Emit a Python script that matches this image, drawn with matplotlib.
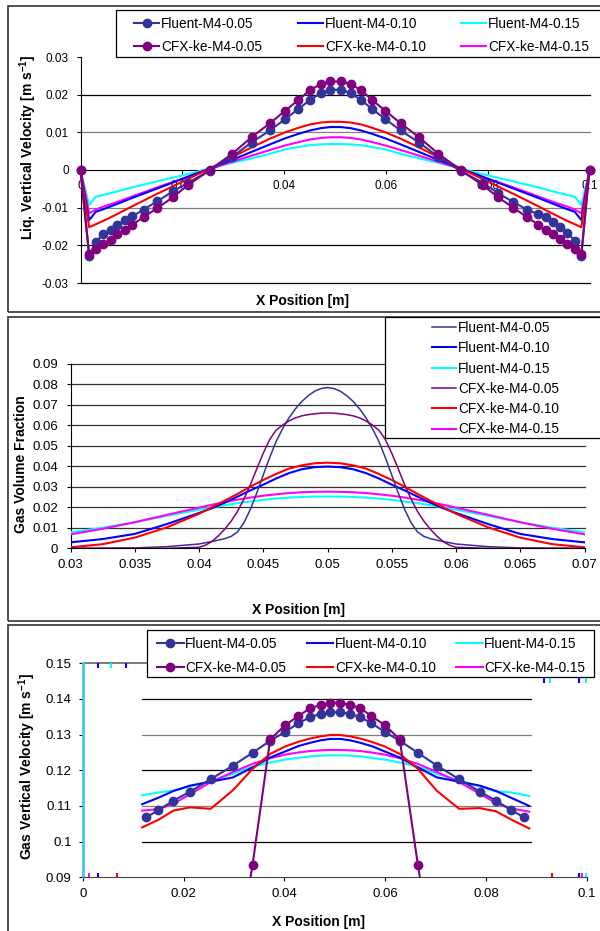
import matplotlib
matplotlib.use("Agg")
import matplotlib.pyplot as plt
from matplotlib.patches import Rectangle
from matplotlib.lines import Line2D

plt.rcParams['font.family'] = ['Liberation Sans', 'DejaVu Sans']
plt.rcParams['mathtext.fontset'] = 'custom'
plt.rcParams['mathtext.rm'] = 'Liberation Sans:bold'
plt.rcParams['mathtext.it'] = 'Liberation Sans:bold'
plt.rcParams['mathtext.bf'] = 'Liberation Sans:bold'

# --- series names ---
SERIES = ['Fluent-M4-0.05', 'Fluent-M4-0.10', 'Fluent-M4-0.15',
          'CFX-ke-M4-0.05', 'CFX-ke-M4-0.10', 'CFX-ke-M4-0.15']

# --- panel 1: liquid vertical velocity ---
x_liq = [0.0, 0.0017, 0.0030, 0.0045, 0.0059, 0.0072, 0.0087, 0.0102, 0.0124, 0.0151,
         0.0181, 0.0211, 0.0254, 0.0298, 0.0336, 0.0372, 0.0402, 0.0428, 0.0451, 0.0472,
         0.0491, 0.0511, 0.0531, 0.0551, 0.0573, 0.0599, 0.0629, 0.0665, 0.0703, 0.0747,
         0.0790, 0.0820, 0.0850, 0.0877, 0.0899, 0.0914, 0.0929, 0.0942, 0.0956, 0.0971,
         0.0984, 0.1]
liq_fluent_005 = [0.0, -0.0228, -0.0190, -0.0171, -0.0158, -0.0146, -0.0133, -0.0123, -0.0105, -0.0083,
                  -0.0057, -0.0034, -0.0002, 0.0035, 0.0073, 0.0105, 0.0135, 0.0162, 0.0186, 0.0204,
                  0.0213, 0.0213, 0.0204, 0.0186, 0.0162, 0.0135, 0.0105, 0.0073, 0.0035, -0.0003,
                  -0.0034, -0.0061, -0.0085, -0.0105, -0.0117, -0.0124, -0.0137, -0.0151, -0.0166, -0.0188,
                  -0.0227, 0.0]
liq_cfx_005 = [0.0, -0.0224, -0.0209, -0.0197, -0.0185, -0.0171, -0.0158, -0.0145, -0.0125, -0.0101,
               -0.0073, -0.0040, 0.0000, 0.0043, 0.0087, 0.0124, 0.0157, 0.0186, 0.0212, 0.0228,
               0.0235, 0.0235, 0.0228, 0.0212, 0.0186, 0.0157, 0.0124, 0.0087, 0.0043, 0.0000,
               -0.0040, -0.0072, -0.0100, -0.0125, -0.0145, -0.0159, -0.0171, -0.0183, -0.0197, -0.0209,
               -0.0222, 0.0]

x_liq_line = [0.0, 0.0017, 0.0030, 0.0045, 0.0072, 0.0102, 0.0151, 0.0211, 0.0254, 0.0298,
              0.0336, 0.0372, 0.0402, 0.0428, 0.0451, 0.0472, 0.0491, 0.0511, 0.0531, 0.0551,
              0.0573, 0.0599, 0.0629, 0.0665, 0.0703, 0.0747, 0.0790, 0.0850, 0.0899, 0.0929,
              0.0956, 0.0971, 0.0984, 0.1]
liq_fluent_010 = [0.0, -0.0133, -0.0111, -0.0104, -0.0090, -0.0074, -0.0049, -0.0018, 0.0004, 0.0027,
                  0.0048, 0.0068, 0.0084, 0.0096, 0.0105, 0.0111, 0.0114, 0.0114, 0.0111, 0.0105,
                  0.0096, 0.0084, 0.0068, 0.0048, 0.0027, 0.0004, -0.0018, -0.0049, -0.0074, -0.0090,
                  -0.0104, -0.0111, -0.0133, 0.0]
liq_fluent_015 = [0.0, -0.0093, -0.0071, -0.0066, -0.0057, -0.0046, -0.0030, -0.0011, 0.0004, 0.0019,
                  0.0031, 0.0043, 0.0055, 0.0061, 0.0066, 0.0068, 0.0069, 0.0069, 0.0068, 0.0066,
                  0.0061, 0.0055, 0.0043, 0.0031, 0.0019, 0.0004, -0.0011, -0.0030, -0.0046, -0.0057,
                  -0.0066, -0.0071, -0.0093, 0.0]
liq_cfx_010 = [0.0, -0.0152, -0.0144, -0.0135, -0.0117, -0.0096, -0.0063, -0.0024, 0.0004, 0.0034,
               0.0060, 0.0083, 0.0100, 0.0112, 0.0121, 0.0126, 0.0128, 0.0128, 0.0126, 0.0121,
               0.0112, 0.0100, 0.0083, 0.0060, 0.0034, 0.0004, -0.0024, -0.0063, -0.0096, -0.0117,
               -0.0135, -0.0144, -0.0152, 0.0]
liq_cfx_015 = [0.0, -0.0115, -0.0105, -0.0097, -0.0085, -0.0070, -0.0046, -0.0018, 0.0003, 0.0022,
               0.0038, 0.0053, 0.0065, 0.0074, 0.0081, 0.0085, 0.0087, 0.0087, 0.0085, 0.0081,
               0.0074, 0.0065, 0.0053, 0.0038, 0.0022, 0.0003, -0.0018, -0.0046, -0.0070, -0.0085,
               -0.0097, -0.0105, -0.0115, 0.0]
liq_xticks = [0.0, 0.02, 0.04, 0.06, 0.08, 0.1]
liq_xticklabels = ['0', '0.02', '0.04', '0.06', '0.08', '0.1']
liq_yticks = [-0.03, -0.02, -0.01, 0.0, 0.01, 0.02, 0.03]
liq_yticklabels = ['-0.03', '-0.02', '-0.01', '0', '0.01', '0.02', '0.03']

# --- panel 2: gas volume fraction ---
# wide profiles (1 mm spacing near the centre)
x_frac = [0.030, 0.0325, 0.035, 0.0375, 0.040, 0.041, 0.042, 0.043, 0.044, 0.045,
          0.046, 0.047, 0.048, 0.049, 0.050, 0.051, 0.052, 0.053, 0.054, 0.055,
          0.056, 0.057, 0.058, 0.059, 0.060, 0.0625, 0.065, 0.0675, 0.070]
frac_fluent_010 = [0.0029, 0.0045, 0.0070, 0.0118, 0.0172, 0.0195, 0.0222, 0.0252, 0.0282, 0.0310,
                   0.0340, 0.0366, 0.0385, 0.0395, 0.0398, 0.0395, 0.0385, 0.0366, 0.0340, 0.0310,
                   0.0282, 0.0252, 0.0222, 0.0195, 0.0172, 0.0118, 0.0070, 0.0045, 0.0029]
frac_fluent_015 = [0.0078, 0.0100, 0.0127, 0.0158, 0.0188, 0.0199, 0.0210, 0.0220, 0.0228, 0.0236,
                   0.0242, 0.0247, 0.0250, 0.0252, 0.0252, 0.0252, 0.0250, 0.0247, 0.0242, 0.0236,
                   0.0228, 0.0220, 0.0210, 0.0199, 0.0188, 0.0158, 0.0127, 0.0100, 0.0078]
frac_cfx_010 = [0.0005, 0.0020, 0.0052, 0.0102, 0.0168, 0.0200, 0.0232, 0.0265, 0.0300, 0.0333,
                0.0362, 0.0388, 0.0404, 0.0414, 0.0417, 0.0414, 0.0404, 0.0388, 0.0362, 0.0333,
                0.0300, 0.0265, 0.0232, 0.0200, 0.0168, 0.0102, 0.0052, 0.0020, 0.0005]
frac_cfx_015 = [0.0068, 0.0095, 0.0127, 0.0163, 0.0198, 0.0212, 0.0225, 0.0237, 0.0247, 0.0256,
                0.0263, 0.0269, 0.0273, 0.0275, 0.0276, 0.0275, 0.0273, 0.0269, 0.0263, 0.0256,
                0.0247, 0.0237, 0.0225, 0.0212, 0.0198, 0.0163, 0.0127, 0.0095, 0.0068]
# narrow profiles (0.5 mm spacing between 0.04 and 0.06)
x_frac_fine = [0.030, 0.0325, 0.035, 0.0375,
               0.0400, 0.0405, 0.0410, 0.0415, 0.0420, 0.0425, 0.0430, 0.0435, 0.0440, 0.0445,
               0.0450, 0.0455, 0.0460, 0.0465, 0.0470, 0.0475, 0.0480, 0.0485, 0.0490, 0.0495,
               0.0500, 0.0505, 0.0510, 0.0515, 0.0520, 0.0525, 0.0530, 0.0535, 0.0540, 0.0545,
               0.0550, 0.0555, 0.0560, 0.0565, 0.0570, 0.0575, 0.0580, 0.0585, 0.0590, 0.0595,
               0.0600, 0.0625, 0.065, 0.0675, 0.070]
frac_fluent_005 = [0.0, 0.0, 0.0002, 0.0008,
                   0.0021, 0.0027, 0.0033, 0.0040, 0.0047, 0.0058, 0.0080, 0.0125, 0.0190, 0.0270,
                   0.0357, 0.0442, 0.0520, 0.0582, 0.0635, 0.0679, 0.0715, 0.0743, 0.0765, 0.0778,
                   0.0783, 0.0778, 0.0765, 0.0743, 0.0715, 0.0679, 0.0635, 0.0582, 0.0520, 0.0442,
                   0.0357, 0.0270, 0.0190, 0.0125, 0.0080, 0.0058, 0.0047, 0.0040, 0.0033, 0.0027,
                   0.0021, 0.0008, 0.0002, 0.0, 0.0]
frac_cfx_005 = [0.0, 0.0, 0.0, 0.0,
                0.0005, 0.0015, 0.0033, 0.0060, 0.0093, 0.0132, 0.0180, 0.0240, 0.0310, 0.0388,
                0.0463, 0.0530, 0.0575, 0.0600, 0.0620, 0.0635, 0.0645, 0.0651, 0.0655, 0.0658,
                0.0659, 0.0658, 0.0655, 0.0651, 0.0645, 0.0635, 0.0620, 0.0600, 0.0575, 0.0530,
                0.0463, 0.0388, 0.0310, 0.0240, 0.0180, 0.0132, 0.0093, 0.0060, 0.0033, 0.0015,
                0.0005, 0.0, 0.0, 0.0, 0.0]
frac_xticks = [0.03, 0.035, 0.04, 0.045, 0.05, 0.055, 0.06, 0.065, 0.07]
frac_xticklabels = ['0.03', '0.035', '0.04', '0.045', '0.05', '0.055', '0.06', '0.065', '0.07']
frac_yticks = [0.0, 0.01, 0.02, 0.03, 0.04, 0.05, 0.06, 0.07, 0.08, 0.09]
frac_yticklabels = ['0', '0.01', '0.02', '0.03', '0.04', '0.05', '0.06', '0.07', '0.08', '0.09']

# --- panel 3: gas vertical velocity ---
x_gvel_f05 = [0.0126, 0.0150, 0.0180, 0.0213, 0.0254, 0.0298, 0.0337, 0.0372, 0.0402, 0.0428,
              0.0451, 0.0472, 0.0491, 0.0511, 0.0531, 0.0551, 0.0573, 0.0599, 0.0629, 0.0665,
              0.0703, 0.0747, 0.0788, 0.0820, 0.0850, 0.0876]
gvel_fluent_005 = [0.1068, 0.1088, 0.1115, 0.1140, 0.1175, 0.1213, 0.1249, 0.1283, 0.1308, 0.1332,
                   0.1349, 0.1358, 0.1363, 0.1363, 0.1358, 0.1349, 0.1332, 0.1308, 0.1283, 0.1249,
                   0.1213, 0.1175, 0.1140, 0.1115, 0.1088, 0.1068]
x_gvel_c05 = [0.0298, 0.0337, 0.0372, 0.0402, 0.0428, 0.0451, 0.0472, 0.0491, 0.0511, 0.0531,
              0.0551, 0.0573, 0.0599, 0.0629, 0.0665, 0.0703]
gvel_cfx_005 = [0.0600, 0.0935, 0.1287, 0.1327, 0.1352, 0.1374, 0.1383, 0.1390, 0.1390, 0.1383,
                0.1374, 0.1352, 0.1327, 0.1287, 0.0935, 0.0600]
x_gvel_line = [0.0118, 0.0150, 0.0180, 0.0213, 0.0254, 0.0298, 0.0337, 0.0372, 0.0402, 0.0428,
               0.0451, 0.0472, 0.0491, 0.0511, 0.0531, 0.0551, 0.0573, 0.0599, 0.0629, 0.0665,
               0.0703, 0.0747, 0.0788, 0.0820, 0.0850, 0.0886]
gvel_fluent_010 = [0.1105, 0.1123, 0.1142, 0.1157, 0.1168, 0.1180, 0.1208, 0.1236, 0.1253, 0.1268,
                   0.1277, 0.1284, 0.1288, 0.1288, 0.1284, 0.1277, 0.1268, 0.1253, 0.1236, 0.1208,
                   0.1180, 0.1168, 0.1157, 0.1142, 0.1123, 0.1100]
gvel_fluent_015 = [0.1130, 0.1138, 0.1143, 0.1155, 0.1170, 0.1190, 0.1210, 0.1222, 0.1230, 0.1235,
                   0.1239, 0.1241, 0.1242, 0.1242, 0.1241, 0.1239, 0.1235, 0.1230, 0.1222, 0.1210,
                   0.1190, 0.1172, 0.1155, 0.1141, 0.1138, 0.1128]
gvel_cfx_010 = [0.1040, 0.1061, 0.1087, 0.1096, 0.1092, 0.1144, 0.1204, 0.1246, 0.1267, 0.1280,
                0.1289, 0.1295, 0.1299, 0.1299, 0.1295, 0.1289, 0.1280, 0.1267, 0.1246, 0.1204,
                0.1142, 0.1092, 0.1094, 0.1085, 0.1062, 0.1037]
gvel_cfx_015 = [0.1087, 0.1091, 0.1106, 0.1133, 0.1167, 0.1195, 0.1218, 0.1234, 0.1244, 0.1250,
                0.1254, 0.1256, 0.1257, 0.1257, 0.1256, 0.1254, 0.1250, 0.1244, 0.1234, 0.1218,
                0.1195, 0.1167, 0.1134, 0.1108, 0.1093, 0.1084]
gvel_xticks = [0.0, 0.02, 0.04, 0.06, 0.08, 0.1]
gvel_xticklabels = ['0', '0.02', '0.04', '0.06', '0.08', '0.1']
gvel_yticks = [0.09, 0.10, 0.11, 0.12, 0.13, 0.14, 0.15]
gvel_yticklabels = ['0.09', '0.1', '0.11', '0.12', '0.13', '0.14', '0.15']
# off-scale bits of the near-wall values that show up as stubs on the plot edges
stub_top_x = [0.0030, 0.0057, 0.0085, 0.0915, 0.0927, 0.0985, 0.0998]
stub_top_series = ['Fluent-M4-0.10', 'Fluent-M4-0.15', 'Fluent-M4-0.10',
                   'Fluent-M4-0.10', 'Fluent-M4-0.15', 'Fluent-M4-0.10', 'Fluent-M4-0.15']
stub_bottom_x = [0.0013, 0.0030, 0.0069, 0.0932, 0.0985, 0.0990, 0.0999]
stub_bottom_series = ['CFX-ke-M4-0.15', 'Fluent-M4-0.10', 'CFX-ke-M4-0.10', 'CFX-ke-M4-0.10',
                      'Fluent-M4-0.10', 'CFX-ke-M4-0.15', 'Fluent-M4-0.15']

COLORS = {'Fluent-M4-0.05': '#333399', 'Fluent-M4-0.10': '#0000FF', 'Fluent-M4-0.15': '#00FFFF',
          'CFX-ke-M4-0.05': '#800080', 'CFX-ke-M4-0.10': '#FF0000', 'CFX-ke-M4-0.15': '#FF00FF'}

W, H = 600.0, 931.0
fig = plt.figure(figsize=(6, 9.31), dpi=100)


def px_box(left, top, right, bottom):
    return [left / W, 1 - bottom / H, (right - left) / W, (bottom - top) / H]


def frame(left, top, right, bottom, **kw):
    r = Rectangle((left / W, 1 - bottom / H), (right - left) / W, (bottom - top) / H,
                  transform=fig.transFigure, **kw)
    fig.add_artist(r)


def style_axes(ax, xt, xtl, yt, ytl, size, xpad, ypad):
    ax.set_xticks(xt)
    ax.set_xticklabels(xtl)
    ax.set_yticks(yt)
    ax.set_yticklabels(ytl)
    ax.spines['top'].set_visible(False)
    ax.spines['right'].set_visible(False)
    for s in ('left', 'bottom'):
        ax.spines[s].set_linewidth(0.8)
    ax.tick_params(axis='x', direction='out', length=3, width=0.8, labelsize=size, pad=xpad)
    ax.tick_params(axis='y', direction='out', length=3, width=0.8, labelsize=size, pad=ypad)
    ax.patch.set_alpha(0)


def add_legend(handles, box, anchor, ncol, **kw):
    frame(*box, facecolor='white', edgecolor='black', lw=0.9, zorder=4)
    fig.legend(handles=handles, loc='upper left', ncol=ncol,
               bbox_to_anchor=(anchor[0] / W, 1 - anchor[1] / H),
               bbox_transform=fig.transFigure, frameon=False, borderpad=0,
               borderaxespad=0, fontsize=9.8, **kw)


def handle(name, marker=False, lw=1.5):
    if marker:
        return Line2D([], [], color=COLORS[name], lw=lw, marker='o', markersize=6, label=name)
    return Line2D([], [], color=COLORS[name], lw=lw, label=name)


# panel borders
frame(8, 6, 640, 312, fill=False, edgecolor='#333333', lw=1.2)
frame(8, 316.5, 640, 621, fill=False, edgecolor='#333333', lw=1.2)
frame(8, 625, 640, 945, fill=False, edgecolor='#333333', lw=1.2)

# ---------------- panel 1 ----------------
ax1 = fig.add_axes(px_box(80.5, 57, 589.5, 283))
ax1.set_xlim(0, 0.1)
ax1.set_ylim(-0.03, 0.03)
style_axes(ax1, liq_xticks, liq_xticklabels, liq_yticks, liq_yticklabels, 8.5, 4, 5.5)
ax1.spines['bottom'].set_position(('data', 0))
for y, c in zip([-0.03, -0.02, -0.01, 0.01, 0.02], ['black', 'black', '#808080', '#808080', 'black']):
    ax1.axhline(y, color=c, lw=0.9, zorder=1, clip_on=False)

ax1.plot(x_liq_line, liq_fluent_015, color=COLORS['Fluent-M4-0.15'], lw=1.5, zorder=3)
ax1.plot(x_liq_line, liq_cfx_015, color=COLORS['CFX-ke-M4-0.15'], lw=1.5, zorder=3)
ax1.plot(x_liq_line, liq_fluent_010, color=COLORS['Fluent-M4-0.10'], lw=1.5, zorder=3)
ax1.plot(x_liq_line, liq_cfx_010, color=COLORS['CFX-ke-M4-0.10'], lw=1.5, zorder=3)
ax1.plot(x_liq, liq_fluent_005, color=COLORS['Fluent-M4-0.05'], lw=1.5, marker='o',
         markersize=6, zorder=3, clip_on=False)
ax1.plot(x_liq, liq_cfx_005, color=COLORS['CFX-ke-M4-0.05'], lw=1.5, marker='o',
         markersize=6, zorder=3, clip_on=False)

h1 = [handle('Fluent-M4-0.05', True), handle('CFX-ke-M4-0.05', True),
      handle('Fluent-M4-0.10'), handle('CFX-ke-M4-0.10'),
      handle('Fluent-M4-0.15'), handle('CFX-ke-M4-0.15')]
add_legend(h1, (116, 10, 640, 57.3), (134, 16.5), 3, handlelength=1.85,
           handletextpad=0.15, columnspacing=2.6, labelspacing=0.7)
fig.text(302 / W, 1 - 301 / H, 'X Position [m]', ha='center', va='center',
         fontsize=10, fontweight='bold')
fig.text(28.5 / W, 1 - 147 / H, 'Liq. Vertical Velocity [m s$^{-1}$]', ha='center',
         va='center', rotation=90, fontsize=10, fontweight='bold')

# ---------------- panel 2 ----------------
ax2 = fig.add_axes(px_box(70.5, 363.5, 584.5, 548.3))
ax2.set_xlim(0.03, 0.07)
ax2.set_ylim(0, 0.09)
style_axes(ax2, frac_xticks, frac_xticklabels, frac_yticks, frac_yticklabels, 9.5, 5, 6)
for y in frac_yticks[1:]:
    ax2.axhline(y, color='#333333', lw=0.9, zorder=1, clip_on=False)

ax2.plot(x_frac, frac_fluent_015, color=COLORS['Fluent-M4-0.15'], lw=1.5, zorder=3)
ax2.plot(x_frac, frac_cfx_015, color=COLORS['CFX-ke-M4-0.15'], lw=1.5, zorder=3)
ax2.plot(x_frac, frac_fluent_010, color=COLORS['Fluent-M4-0.10'], lw=1.5, zorder=3)
ax2.plot(x_frac, frac_cfx_010, color=COLORS['CFX-ke-M4-0.10'], lw=1.5, zorder=3)
ax2.plot(x_frac_fine, frac_fluent_005, color=COLORS['Fluent-M4-0.05'], lw=1.1, zorder=3)
ax2.plot(x_frac_fine, frac_cfx_005, color=COLORS['CFX-ke-M4-0.05'], lw=1.1, zorder=3)

h2 = [handle('Fluent-M4-0.05', lw=1.1), handle('Fluent-M4-0.10'), handle('Fluent-M4-0.15'),
      handle('CFX-ke-M4-0.05', lw=1.1), handle('CFX-ke-M4-0.10'), handle('CFX-ke-M4-0.15')]
add_legend(h2, (385, 317, 640, 438), (432, 321), 1, handlelength=1.75,
           handletextpad=0.18, labelspacing=0.46)
fig.text(299 / W, 1 - 610 / H, 'X Position [m]', ha='center', va='center',
         fontsize=10, fontweight='bold')
fig.text(20.7 / W, 1 - 464.5 / H, 'Gas Volume Fraction', ha='center', va='center',
         rotation=90, fontsize=10, fontweight='bold')

# ---------------- panel 3 ----------------
ax3 = fig.add_axes(px_box(82.7, 663.3, 586.7, 877.3))
ax3.set_xlim(0, 0.1)
ax3.set_ylim(0.09, 0.15)
style_axes(ax3, gvel_xticks, gvel_xticklabels, gvel_yticks, gvel_yticklabels, 9.5, 5, 5)
ax3.spines['left'].set_color('#40C8F0')
ax3.spines['left'].set_linewidth(2)
ax3.spines['bottom'].set_color('#444444')
for y, c in zip([0.10, 0.11, 0.12, 0.13, 0.14], ['black', '#808080', 'black', '#808080', 'black']):
    ax3.axhline(y, xmin=0.118, xmax=0.89, color=c, lw=0.9, zorder=1)
ax3.axhline(0.15, color='#666666', lw=1.2, zorder=1, clip_on=False)

ax3.plot(x_gvel_line, gvel_fluent_015, color=COLORS['Fluent-M4-0.15'], lw=1.5, zorder=3)
ax3.plot(x_gvel_line, gvel_cfx_015, color=COLORS['CFX-ke-M4-0.15'], lw=1.5, zorder=3)
ax3.plot(x_gvel_line, gvel_fluent_010, color=COLORS['Fluent-M4-0.10'], lw=1.5, zorder=3)
ax3.plot(x_gvel_line, gvel_cfx_010, color=COLORS['CFX-ke-M4-0.10'], lw=1.5, zorder=3)
ax3.plot(x_gvel_f05, gvel_fluent_005, color=COLORS['Fluent-M4-0.05'], lw=1.5, marker='o',
         markersize=6, zorder=3)
ax3.plot(x_gvel_c05, gvel_cfx_005, color=COLORS['CFX-ke-M4-0.05'], lw=1.5, marker='o',
         markersize=6, zorder=3)
for x, s in zip(stub_top_x, stub_top_series):
    depth = 0.0013 if x < 0.05 else 0.0055
    ax3.vlines(x, 0.15 - depth, 0.15, color=COLORS[s], lw=1.5, zorder=3)
for x, s in zip(stub_bottom_x, stub_bottom_series):
    ax3.vlines(x, 0.09, 0.0912, color=COLORS[s], lw=1.5, zorder=3)

h3 = [handle('Fluent-M4-0.05', True), handle('CFX-ke-M4-0.05', True),
      handle('Fluent-M4-0.10'), handle('CFX-ke-M4-0.10'),
      handle('Fluent-M4-0.15'), handle('CFX-ke-M4-0.15')]
add_legend(h3, (147, 630, 594, 677), (157, 636.5), 3, handlelength=1.95,
           handletextpad=0.12, columnspacing=1.5, labelspacing=0.74)
fig.text(319 / W, 1 - 921.7 / H, 'X Position [m]', ha='center', va='center',
         fontsize=10, fontweight='bold')
fig.text(27.5 / W, 1 - 766 / H, 'Gas Vertical Velocity [m s$^{-1}$]', ha='center',
         va='center', rotation=90, fontsize=10, fontweight='bold')

fig.savefig('out.png', dpi=100, facecolor='white')
